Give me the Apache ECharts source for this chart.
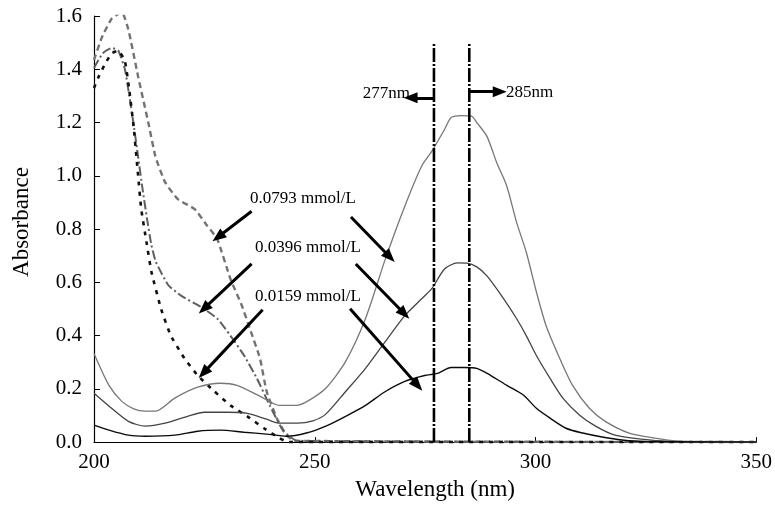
<!DOCTYPE html>
<html><head><meta charset="utf-8">
<script src="https://cdn.jsdelivr.net/npm/echarts@6/dist/echarts.min.js"></script>
<style>html,body{margin:0;padding:0;background:#fff}#c{width:775px;height:506px}</style>
</head><body><div id="c"></div>
<script>
// ---- data ----
const seriesNames = ['0.0793 mmol/L', '0.0396 mmol/L', '0.0159 mmol/L'];

// solid curves
const wl0793 = [200,203.4,206.3,209,211.5,214,218.3,223.5,228.6,232.4,237.6,242,245.8,248.5,252.5,257,261.5,266,270.4,274.2,276.5,279.4,280.9,283.2,285.5,286.7,289,291.2,293.5,295.7,297.9,300.2,302.4,305.5,308.4,312.2,315.8,321.2,327,332.3,340,350];
const ab0793 = [0.333,0.213,0.153,0.125,0.116,0.116,0.165,0.206,0.221,0.213,0.172,0.138,0.138,0.155,0.202,0.303,0.464,0.688,0.886,1.036,1.092,1.174,1.219,1.226,1.224,1.2,1.148,1.05,0.961,0.826,0.714,0.564,0.437,0.314,0.213,0.127,0.078,0.034,0.015,0.004,0.001,0];

const wl0396 = [200,203.4,207.8,211.6,216.1,221.2,225,230.2,234.7,239.1,242,246,249.6,252.5,257,261.5,266,270.4,274.2,276.5,279.4,282.3,284.5,286.7,289,292.8,295.7,297.9,300.2,303.3,306.2,310,313.6,318,324.1,330,340,350];
const ab0396 = [0.183,0.135,0.078,0.06,0.071,0.097,0.112,0.112,0.108,0.086,0.071,0.071,0.08,0.105,0.19,0.277,0.378,0.475,0.538,0.576,0.65,0.673,0.672,0.658,0.624,0.538,0.464,0.4,0.325,0.239,0.165,0.101,0.06,0.026,0.011,0.003,0.001,0];

const wl0159 = [200,203.4,207.8,211.6,218.3,223.5,228.6,234,239.1,243.6,248.1,252.5,257,261.5,266,270.4,274.9,277.8,280.9,283.8,286.7,289.9,293.5,297.3,300.2,303.3,306.9,310.7,315.1,319.6,325,350];
const ab0159 = [0.064,0.045,0.026,0.022,0.026,0.041,0.045,0.037,0.03,0.022,0.034,0.06,0.097,0.138,0.19,0.228,0.25,0.258,0.28,0.28,0.277,0.25,0.213,0.176,0.127,0.09,0.052,0.034,0.019,0.008,0.002,0];

// dashed curves (reference spectra)
const wlDashA = [200,201.8,204,206.3,207.8,210,212.3,213.9,216.1,219,222.8,225.7,227.9,230.9,233.5,235.3,237.6,239.1,241.4,243.6,245.5,350];
const abDashA = [1.435,1.52,1.59,1.615,1.548,1.372,1.2,1.073,0.976,0.912,0.875,0.811,0.763,0.613,0.512,0.426,0.314,0.19,0.09,0.026,0.005,0];

const wlDashB = [200,202,204,205.5,207,208,209,210,211,212,213,214,216.8,219.7,224.2,227.9,230.9,234,236.9,239.8,242.9,246,350];
const abDashB = [1.405,1.46,1.48,1.47,1.40,1.30,1.19,1.07,0.95,0.84,0.74,0.677,0.59,0.55,0.508,0.464,0.4,0.325,0.239,0.138,0.041,0.005,0];

const wlDashC = [200,201,202.5,204,205.5,207,208,209,210,210.7,211.9,213,215.2,217.4,220.5,223.5,227.3,230.9,235.3,238.5,242,244,350];
const abDashC = [1.33,1.37,1.42,1.46,1.47,1.43,1.32,1.18,1.0,0.875,0.75,0.64,0.5,0.4,0.314,0.25,0.19,0.138,0.09,0.052,0.015,0,0];

// vertical marker lines
const markWl = [277, 285];
const markTop = 1.5;

// axis ticks
const xMin = 200, xMax = 350, xStep = 50;
const yMin = 0, yMax = 1.6, yStep = 0.2;

// annotation arrows [x0, y0, x1, y1] in data units
const arrows = [
  [235.7, 0.867, 228.1, 0.770],
  [235.7, 0.669, 224.9, 0.501],
  [238.2, 0.497, 224.8, 0.26],
  [258.2, 0.845, 267.0, 0.695],
  [259.3, 0.669, 270.3, 0.482],
  [258.0, 0.501, 273.3, 0.213],
  [277, 1.293, 271.7, 1.293],
  [285, 1.316, 291.9, 1.316]
];

const zip = (xs, ys) => xs.map((x, i) => [x, ys[i]]);
const FONT = 'Liberation Serif';

const chart = echarts.init(document.getElementById('c'), null, {renderer: 'canvas'});

function lineSeries(name, data, color, width, type, z, smooth) {
  return {
    name, type: 'line', data, showSymbol: false, symbol: 'none',
    smooth: smooth || false,
    lineStyle: {color, width, type}, z: z || 2, silent: true, animation: false
  };
}

const series = [
  lineSeries('dashA', zip(wlDashA, abDashA), '#737373', 2.4, [6, 4], 2, 0.15),
  lineSeries('dashB', zip(wlDashB, abDashB), '#5f5f5f', 2.0, [9, 3, 2, 3], 2, 0.15),
  lineSeries('dashC', zip(wlDashC, abDashC), '#111', 2.6, [4, 6], 2, 0.15),
  lineSeries(seriesNames[0], zip(wl0793, ab0793), '#777', 1.3, 'solid', 3, 0.25),
  lineSeries(seriesNames[1], zip(wl0396, ab0396), '#444', 1.3, 'solid', 3, 0.25),
  lineSeries(seriesNames[2], zip(wl0159, ab0159), '#0a0a0a', 1.4, 'solid', 3, 0.25)
];
markWl.forEach(w => {
  series.push(lineSeries('mark' + w, [[w, 0], [w, markTop]], '#000', 2.6, [14, 2, 2, 2], 4));
});
series[5].markLine = {
  silent: true, animation: false,
  symbol: ['none', 'triangle'], symbolSize: [11, 14],
  lineStyle: {color: '#000', width: 3, type: 'solid'},
  label: {show: false},
  emphasis: {disabled: true},
  data: arrows.map(a => [{coord: [a[0], a[1]]}, {coord: [a[2], a[3]]}])
};

chart.setOption({
  animation: false,
  backgroundColor: '#fff',
  grid: {left: 94, right: 13.5, top: 16, bottom: 62, containLabel: false},
  xAxis: {
    type: 'value', min: xMin, max: xMax, interval: xStep,
    name: 'Wavelength (nm)', nameLocation: 'middle', nameGap: 35,
    nameTextStyle: {fontFamily: FONT, fontSize: 23, color: '#000', padding: [0, 0, 0, 20]},
    axisLine: {show: true, lineStyle: {color: '#000', width: 1.2}},
    axisTick: {show: true, inside: true, length: 5, lineStyle: {color: '#000'}},
    axisLabel: {fontFamily: FONT, fontSize: 21, color: '#000', margin: 10},
    splitLine: {show: false}
  },
  yAxis: {
    type: 'value', min: yMin, max: yMax, interval: yStep,
    name: 'Absorbance', nameLocation: 'middle', nameGap: 61,
    nameTextStyle: {fontFamily: FONT, fontSize: 23, color: '#000', padding: [0, 0, 0, 14]},
    axisLine: {show: true, lineStyle: {color: '#000', width: 1.2}},
    axisTick: {show: true, inside: true, length: 6, lineStyle: {color: '#000'}},
    axisLabel: {fontFamily: FONT, fontSize: 21, color: '#000', margin: 12,
      formatter: v => v.toFixed(1)},
    splitLine: {show: false}
  },
  series,
  graphic: [
    {type: 'text', left: 250, top: 190, style: {text: seriesNames[0], font: '17px "Liberation Serif"', fill: '#000'}},
    {type: 'text', left: 255, top: 239, style: {text: seriesNames[1], font: '17px "Liberation Serif"', fill: '#000'}},
    {type: 'text', left: 255, top: 288, style: {text: seriesNames[2], font: '17px "Liberation Serif"', fill: '#000'}},
    {type: 'text', right: 775 - 410, top: 85, style: {text: '277nm', font: '17px "Liberation Serif"', fill: '#000'}},
    {type: 'text', left: 506, top: 84, style: {text: '285nm', font: '17px "Liberation Serif"', fill: '#000'}}
  ]
});
</script>
</body></html>
